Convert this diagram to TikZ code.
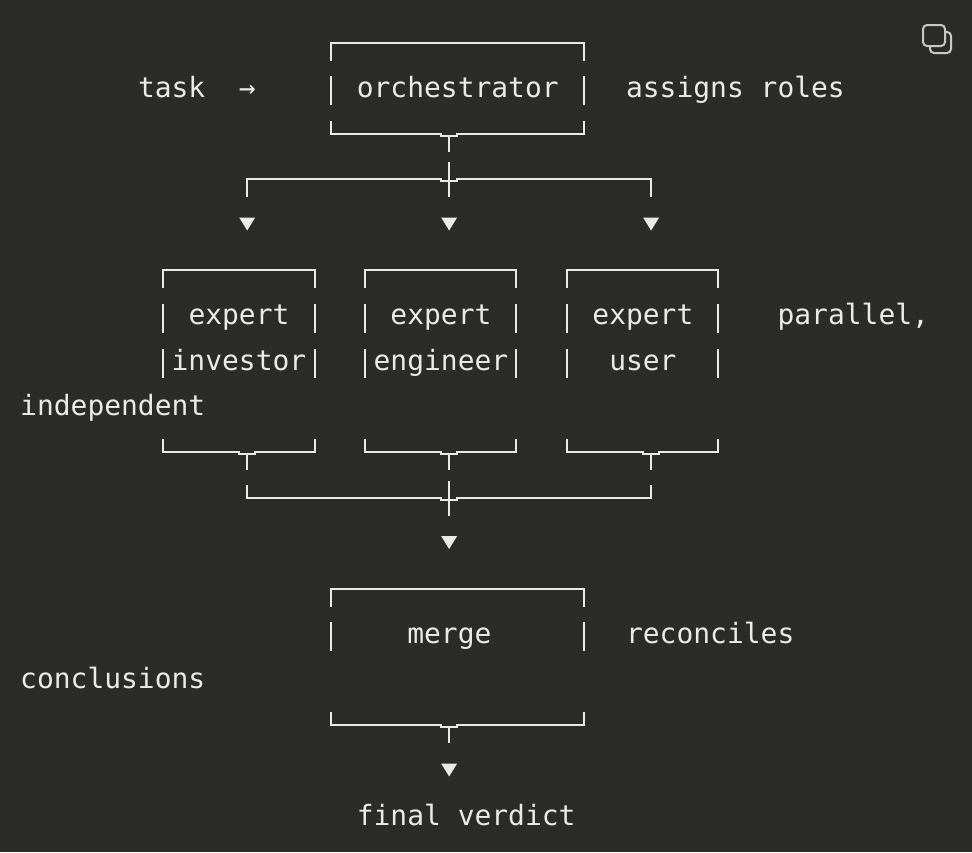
\documentclass[tikz,border=0pt]{standalone}
\usepackage{fontspec}
\setmonofont{DejaVu Sans Mono}

\definecolor{bg}{RGB}{43,43,41}
\definecolor{ink}{RGB}{234,234,231}
\definecolor{iconc}{RGB}{200,200,196}

% character grid: column centre, cell left edge, row centre (in px = pt)
\newcommand{\gx}[1]{(28.4+16.83*(#1))}
\newcommand{\cl}[1]{(20+16.83*(#1))}
\newcommand{\gy}[1]{(88+45.5*(#1))}

\tikzset{
  rule/.style={draw=ink, line width=2pt},
  lbl/.style={anchor=base west, inner sep=0pt, text=ink,
              font=\ttfamily\fontsize{27.95}{30}\selectfont},
  tipfill/.style={fill=ink},
}

% top edge of a box: corners at columns #1 and #2, row #3
\newcommand{\boxtop}[3]{%
  \draw[rule] ({\gx{#1}},{\gy{#3}+18}) -- ({\gx{#1}},{\gy{#3}})
    -- ({\gx{#2}},{\gy{#3}}) -- ({\gx{#2}},{\gy{#3}+18});}
% side bars of a box in text row #3
\newcommand{\boxsides}[3]{%
  \draw[rule] ({\gx{#1}},{\gy{#3}-12}) -- ({\gx{#1}},{\gy{#3}+17});
  \draw[rule] ({\gx{#2}},{\gy{#3}-12}) -- ({\gx{#2}},{\gy{#3}+17});}
% bottom edge with a tee at column #3, row #4
\newcommand{\boxbottom}[4]{%
  \draw[rule] ({\gx{#1}},{\gy{#4}-13}) -- ({\gx{#1}},{\gy{#4}})
    -- ({\gx{#3}-8},{\gy{#4}}) -- ({\gx{#3}-8},{\gy{#4}+2})
    -- ({\gx{#3}+8},{\gy{#4}+2}) -- ({\gx{#3}+8},{\gy{#4}})
    -- ({\gx{#2}},{\gy{#4}}) -- ({\gx{#2}},{\gy{#4}-13});
  \draw[rule] ({\gx{#3}},{\gy{#4}+2}) -- ({\gx{#3}},{\gy{#4}+18});}
% downward pointer at column #1, row #2
\newcommand{\pointer}[2]{%
  \fill[tipfill] ({\gx{#1}-8},{\gy{#2}-7}) -- ({\gx{#1}+8},{\gy{#2}-7})
    -- ({\gx{#1}},{\gy{#2}+6}) -- cycle;}

\begin{document}
\begin{tikzpicture}[x=1pt,y=-1pt]
  \fill[bg] (0,0) rectangle (972,852);
  \useasboundingbox (0,0) rectangle (972,852);

  % copy icon
  \draw[iconc, line width=2pt, rounded corners=4pt] (930,32) rectangle (951,53);
  \filldraw[fill=bg, draw=iconc, line width=2pt, rounded corners=4pt] (923,25) rectangle (945,46);

  % orchestrator box
  \boxtop{18}{33}{-1}
  \boxsides{18}{33}{0}
  \boxbottom{18}{33}{25}{1}

  % fan-out to the experts
  \draw[rule] ({\gx{13}},{\gy{2}+18}) -- ({\gx{13}},{\gy{2}})
    -- ({\gx{25}-8},{\gy{2}}) -- ({\gx{25}-8},{\gy{2}+2})
    -- ({\gx{25}+8},{\gy{2}+2}) -- ({\gx{25}+8},{\gy{2}})
    -- ({\gx{37}},{\gy{2}}) -- ({\gx{37}},{\gy{2}+18});
  \draw[rule] ({\gx{25}},{\gy{2}-17}) -- ({\gx{25}},{\gy{2}+18});
  \pointer{13}{3}
  \pointer{25}{3}
  \pointer{37}{3}

  % expert boxes
  \foreach \a/\b/\t in {8/17/13, 20/29/25, 32/41/37}{
    \boxtop{\a}{\b}{4}
    \boxsides{\a}{\b}{5}
    \boxsides{\a}{\b}{6}
    \boxbottom{\a}{\b}{\t}{8}
  }

  % fan-in to merge
  \draw[rule] ({\gx{13}},{\gy{9}-13}) -- ({\gx{13}},{\gy{9}})
    -- ({\gx{25}-8},{\gy{9}}) -- ({\gx{25}-8},{\gy{9}+2})
    -- ({\gx{25}+8},{\gy{9}+2}) -- ({\gx{25}+8},{\gy{9}})
    -- ({\gx{37}},{\gy{9}}) -- ({\gx{37}},{\gy{9}-13});
  \draw[rule] ({\gx{25}},{\gy{9}-17}) -- ({\gx{25}},{\gy{9}+18});
  \pointer{25}{10}

  % merge box
  \boxtop{18}{33}{11}
  \boxsides{18}{33}{12}
  \boxbottom{18}{33}{25}{14}
  \pointer{25}{15}

  % labels
  \node[lbl] (task)    at ({\cl{7}},{\gy{0}+9})  {task};
  \node[lbl] (arrow)   at ({\cl{13}},{\gy{0}+9}) {→};
  \node[lbl] (orch)    at ({\cl{20}},{\gy{0}+9}) {orchestrator};
  \node[lbl] (roles)   at ({\cl{36}},{\gy{0}+9}) {assigns roles};
  \node[lbl] (exA)     at ({\cl{10}},{\gy{5}+9}) {expert};
  \node[lbl] (exB)     at ({\cl{22}},{\gy{5}+9}) {expert};
  \node[lbl] (exC)     at ({\cl{34}},{\gy{5}+9}) {expert};
  \node[lbl] (par)     at ({\cl{45}},{\gy{5}+9}) {parallel,};
  \node[lbl] (inv)     at ({\cl{9}},{\gy{6}+9})  {investor};
  \node[lbl] (eng)     at ({\cl{21}},{\gy{6}+9}) {engineer};
  \node[lbl] (usr)     at ({\cl{35}},{\gy{6}+9}) {user};
  \node[lbl] (indep)   at ({\cl{0}},{\gy{7}+9})  {independent};
  \node[lbl] (merge)   at ({\cl{23}},{\gy{12}+9}) {merge};
  \node[lbl] (recon)   at ({\cl{36}},{\gy{12}+9}) {reconciles};
  \node[lbl] (concl)   at ({\cl{0}},{\gy{13}+9}) {conclusions};
  \node[lbl] (verdict) at ({\cl{20}},{\gy{16}+9}) {final verdict};
\end{tikzpicture}
\end{document}
